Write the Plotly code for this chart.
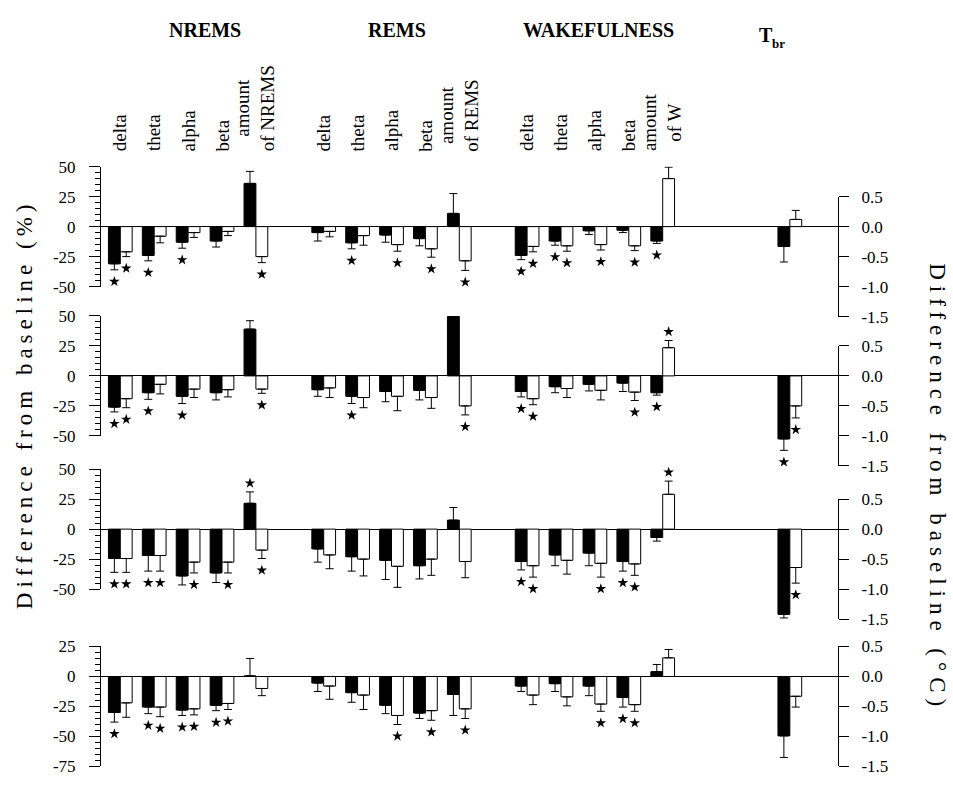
import plotly.graph_objects as go

# ---------------- data ----------------
states = ["NREMS", "REMS", "WAKEFULNESS"]
measures = ["delta", "theta", "alpha", "beta"]
amount_labels = ["amount<br>of NREMS", "amount<br>of REMS", "amount<br>of W"]
tbr_main, tbr_sub = "T", "br"

left_ticks_top = [50, 25, 0, -25, -50]
left_ticktext_top = ["50", "25", "0", "-25", "-50"]
left_ticks_bottom = [25, 0, -25, -50, -75]
left_ticktext_bottom = ["25", "0", "-25", "-50", "-75"]
right_ticks = [0.5, 0.0, -0.5, -1.0, -1.5]
right_ticktext = ["0.5", "0.0", "-0.5", "-1.0", "-1.5"]

# order in each list: NREMS delta,theta,alpha,beta,amount | REMS ... | WAKE ...
p1_filled = [-31, -24, -13, -12, 36, -5, -13.5, -7, -10, 11, -24, -12, -3.5, -3, -12]
p1_filled_err = [5, 4.5, 5, 5, 10, 7, 5, 6, 6, 16.5, 3.5, 3.5, 3, 2, 2]
p1_open = [-21, -8, -5, -4, -25, -4, -7.5, -15, -18.5, -28.5, -16.5, -16, -15, -16, 40]
p1_open_err = [4, 5.5, 4, 3.5, 5, 4.5, 8, 5.5, 7, 8, 4.5, 4.5, 4.5, 4, 9.5]
p1_filled_sig = [1, 1, 1, 0, 1, 0, 1, 0, 0, 0, 1, 1, 0, 0, 1]
p1_open_sig = [1, 0, 0, 0, 1, 0, 0, 1, 1, 1, 1, 1, 1, 1, 1]
p1_tbr = [-0.33, 0.12]
p1_tbr_err = [0.26, 0.15]
p1_tbr_sig = [0, 0]

p2_filled = [-26, -14, -17, -14, 39, -11.5, -17, -13, -12, 49.5, -13, -9, -7, -6, -14]
p2_filled_err = [4, 5.5, 6, 6, 7, 5.5, 6, 8.5, 8, 1, 4.5, 5, 5.5, 7, 2]
p2_open = [-19, -7, -11, -11.5, -11, -10, -18, -17, -18, -25, -19, -10.5, -12, -13.5, 23.5]
p2_open_err = [7.5, 8, 7, 6, 3.5, 8, 8.5, 12, 9, 7.5, 5, 7.5, 8, 7, 6]
p2_filled_sig = [1, 1, 1, 0, 1, 0, 1, 0, 0, 1, 1, 0, 0, 0, 1]
p2_open_sig = [1, 0, 0, 0, 1, 0, 0, 0, 0, 1, 1, 0, 0, 1, 1]
p2_tbr = [-1.05, -0.5]
p2_tbr_err = [0.19, 0.2]
p2_tbr_sig = [1, 1]

p3_filled = [-24.5, -22, -39, -36.5, 21.5, -16.5, -23, -26, -30.5, 7.5, -27, -21.5, -20, -27, -7]
p3_filled_err = [11.5, 13, 7.5, 8, 9.5, 11, 12, 16, 11, 10.5, 7, 9, 10.5, 8, 3]
p3_open = [-24.5, -22, -27.5, -27.5, -17.5, -21.5, -25, -31, -25, -27, -30.5, -26, -28.5, -29, 29]
p3_open_err = [11.5, 13, 9, 9, 7, 11.5, 14, 17.5, 13.5, 13.5, 9.5, 11.5, 11.5, 9.5, 11]
p3_filled_sig = [1, 1, 1, 1, 1, 0, 0, 0, 1, 0, 1, 0, 0, 1, 0]
p3_open_sig = [1, 1, 1, 1, 1, 0, 0, 0, 0, 0, 1, 0, 1, 1, 1]
p3_tbr = [-1.42, -0.64]
p3_tbr_err = [0.06, 0.26]
p3_tbr_sig = [1, 1]

p4_filled = [-30, -25.5, -28, -24, 0.5, -5.5, -13.5, -24, -30.5, -15, -8, -6, -8, -17.5, 4]
p4_filled_err = [8, 5.5, 4.5, 4.5, 14.5, 7, 8, 7, 4.5, 17.5, 4.5, 6.5, 8, 8, 6]
p4_open = [-22, -25.5, -27, -22.5, -10, -8, -15.5, -32.5, -28.5, -27, -15.5, -17, -23, -23.5, 15.5]
p4_open_err = [12, 8, 5, 5, 6, 11, 12, 7.5, 8, 8, 8, 7.5, 6, 5.5, 7]
p4_filled_sig = [1, 1, 1, 1, 0, 0, 0, 0, 0, 0, 0, 0, 0, 1, 0]
p4_open_sig = [0, 1, 1, 1, 0, 0, 0, 1, 1, 1, 0, 0, 1, 1, 0]
p4_tbr = [-0.99, -0.33]
p4_tbr_err = [0.36, 0.18]
p4_tbr_sig = [0, 0]

panels = [
    (p1_filled, p1_filled_err, p1_open, p1_open_err, p1_filled_sig, p1_open_sig, p1_tbr, p1_tbr_err, p1_tbr_sig),
    (p2_filled, p2_filled_err, p2_open, p2_open_err, p2_filled_sig, p2_open_sig, p2_tbr, p2_tbr_err, p2_tbr_sig),
    (p3_filled, p3_filled_err, p3_open, p3_open_err, p3_filled_sig, p3_open_sig, p3_tbr, p3_tbr_err, p3_tbr_sig),
    (p4_filled, p4_filled_err, p4_open, p4_open_err, p4_filled_sig, p4_open_sig, p4_tbr, p4_tbr_err, p4_tbr_sig),
]

# ---------------- layout constants ----------------
W, H = 953, 786
FONT = "Liberation Serif"
L_PX, R_PX = 101, 838
ZERO_PX = [223, 376, 533, 684]
K = 1.23            # px per percent
DEG = 50.0          # percent units per degree C (right axis scale)
SLOT_PX = 33.9
X0_PX = 120.3
TBR_POS = 19.75
BW = 0.35
x_range = [(L_PX - X0_PX) / SLOT_PX, (R_PX - X0_PX) / SLOT_PX]
GAP_BELOW = 12
GAP_ABOVE = 9

positions = [g * 6 + i for g in range(3) for i in range(5)]


def ydom(top_px, bot_px):
    return [1 - bot_px / H, 1 - top_px / H]


def px_x(px):
    return (px - L_PX) / (R_PX - L_PX)


def px_y(py):
    return 1 - py / H


def err_parts(vals, errs):
    plus = [e if v >= 0 else 0 for v, e in zip(vals, errs)]
    minus = [e if v < 0 else 0 for v, e in zip(vals, errs)]
    return plus, minus


def star_points(xs, vals, errs, sig, unit_px):
    sx, sy = [], []
    for x, v, e, s in zip(xs, vals, errs, sig):
        if s:
            sx.append(x)
            if v >= 0:
                sy.append(v + e + GAP_ABOVE / unit_px)
            else:
                sy.append(v - e - GAP_BELOW / unit_px)
    return sx, sy


STAR = dict(symbol="star", size=8, color="black", line=dict(width=0))

fig = go.Figure()
layout_axes = {}
for p, (fv, fe, ov, oe, fs, osg, tv, te, ts) in enumerate(panels):
    ly, ry = 2 * p + 1, 2 * p + 2
    lref = "y" if ly == 1 else f"y{ly}"
    rref = f"y{ry}"
    z = ZERO_PX[p]
    if p < 3:
        lrange, ltv, ltt = [-50, 50], left_ticks_top, left_ticktext_top
    else:
        lrange, ltv, ltt = [-75, 25], left_ticks_bottom, left_ticktext_bottom
    ldom = ydom(z - lrange[1] * K, z - lrange[0] * K)
    rdom = ydom(z - 0.5 * DEG * K, z + 1.5 * DEG * K)

    xf = [x - BW / 2 for x in positions]
    xo = [x + BW / 2 for x in positions]
    for xs, vals, errs, color in [(xf, fv, fe, "black"), (xo, ov, oe, "white")]:
        plus, minus = err_parts(vals, errs)
        fig.add_trace(go.Bar(
            x=xs, y=vals, width=BW, xaxis="x", yaxis=lref,
            marker=dict(color=color, line=dict(color="black", width=1)),
            error_y=dict(type="data", symmetric=False, array=plus, arrayminus=minus,
                         color="black", thickness=1, width=4),
            showlegend=False, hoverinfo="skip"))
    txs = [TBR_POS - BW / 2, TBR_POS + BW / 2]
    for i, color in enumerate(["black", "white"]):
        plus, minus = err_parts([tv[i]], [te[i]])
        fig.add_trace(go.Bar(
            x=[txs[i]], y=[tv[i]], width=BW, xaxis="x", yaxis=rref,
            marker=dict(color=color, line=dict(color="black", width=1)),
            error_y=dict(type="data", symmetric=False, array=plus, arrayminus=minus,
                         color="black", thickness=1, width=4),
            showlegend=False, hoverinfo="skip"))
    sx1, sy1 = star_points(xf, fv, fe, fs, K)
    sx2, sy2 = star_points(xo, ov, oe, osg, K)
    fig.add_trace(go.Scatter(x=sx1 + sx2, y=sy1 + sy2, xaxis="x", yaxis=lref, mode="markers",
                             marker=STAR, cliponaxis=False, showlegend=False, hoverinfo="skip"))
    sx3, sy3 = star_points(txs, tv, te, ts, K * DEG)
    if sx3:
        fig.add_trace(go.Scatter(x=sx3, y=sy3, xaxis="x", yaxis=rref, mode="markers",
                                 marker=STAR, cliponaxis=False, showlegend=False, hoverinfo="skip"))

    lkey = "yaxis" if ly == 1 else f"yaxis{ly}"
    layout_axes[lkey] = dict(
        domain=ldom, range=lrange, anchor="x", side="left",
        showline=True, linecolor="black", linewidth=1, showgrid=False,
        zeroline=True, zerolinecolor="black", zerolinewidth=1.2,
        tickmode="array", tickvals=ltv, ticktext=ltt,
        ticks="outside", ticklen=11, tickwidth=1, tickcolor="black",
        ticklabelstandoff=10,
        tickfont=dict(family=FONT, size=17, color="black"),
        minor=dict(tickmode="linear", tick0=0, dtick=5, ticks="outside",
                   ticklen=5, tickwidth=1, tickcolor="black", showgrid=False),
        fixedrange=True)
    layout_axes[f"yaxis{ry}"] = dict(
        domain=rdom, range=[-1.5, 0.5], anchor="x", side="right",
        showline=True, linecolor="black", linewidth=1, showgrid=False, zeroline=False,
        tickmode="array", tickvals=right_ticks, ticktext=right_ticktext,
        ticks="outside", ticklen=10, tickwidth=1, tickcolor="black",
        ticklabelstandoff=9,
        tickfont=dict(family=FONT, size=17, color="black"),
        fixedrange=True)

annotations = []
# group headers
header_px = [(205, 22, states[0]), (397, 22, states[1]), (598, 22, states[2])]
for xp, yp, txt in header_px:
    annotations.append(dict(x=px_x(xp), y=px_y(yp), xref="paper", yref="paper",
                            text=f"<b>{txt}</b>", showarrow=False, xanchor="center", yanchor="middle",
                            font=dict(family=FONT, size=20, color="black")))
annotations.append(dict(x=px_x(757), y=px_y(27), xref="paper", yref="paper",
                        text=f"<b>{tbr_main}</b>", showarrow=False, xanchor="left", yanchor="middle",
                        font=dict(family=FONT, size=20, color="black")))
annotations.append(dict(x=px_x(770), y=px_y(35), xref="paper", yref="paper",
                        text=f"<b>{tbr_sub}</b>", showarrow=False, xanchor="left", yanchor="middle",
                        font=dict(family=FONT, size=13, color="black")))
# rotated measure labels
for g in range(3):
    labels = measures + [amount_labels[g]]
    for i, lab in enumerate(labels):
        annotations.append(dict(x=g * 6 + i, y=px_y(148), xref="x", yref="paper", text=lab,
                                textangle=-90, showarrow=False, xanchor="center", yanchor="bottom",
                                font=dict(family=FONT, size=19, color="black")))
# axis titles
annotations.append(dict(x=px_x(24), y=px_y(405), xref="paper", yref="paper",
                        text='<span style="letter-spacing:5px">Difference from baseline (%)</span>',
                        textangle=-90, showarrow=False, xanchor="center", yanchor="middle",
                        font=dict(family=FONT, size=23, color="black")))
annotations.append(dict(x=px_x(938), y=px_y(490), xref="paper", yref="paper",
                        text='<span style="letter-spacing:6px">Difference from baseline (°C)</span>',
                        textangle=90, showarrow=False, xanchor="center", yanchor="middle",
                        font=dict(family=FONT, size=23, color="black")))

fig.update_layout(
    width=W, height=H, autosize=False,
    margin=dict(l=L_PX, r=W - R_PX, t=0, b=0),
    paper_bgcolor="white", plot_bgcolor="rgba(0,0,0,0)",
    barmode="overlay",
    xaxis=dict(domain=[0, 1], range=x_range, visible=False, fixedrange=True, anchor="y"),
    annotations=annotations,
    **layout_axes,
)

fig.write_html("out.html", config={"displayModeBar": False},
               post_script="document.body.style.margin='0';")
